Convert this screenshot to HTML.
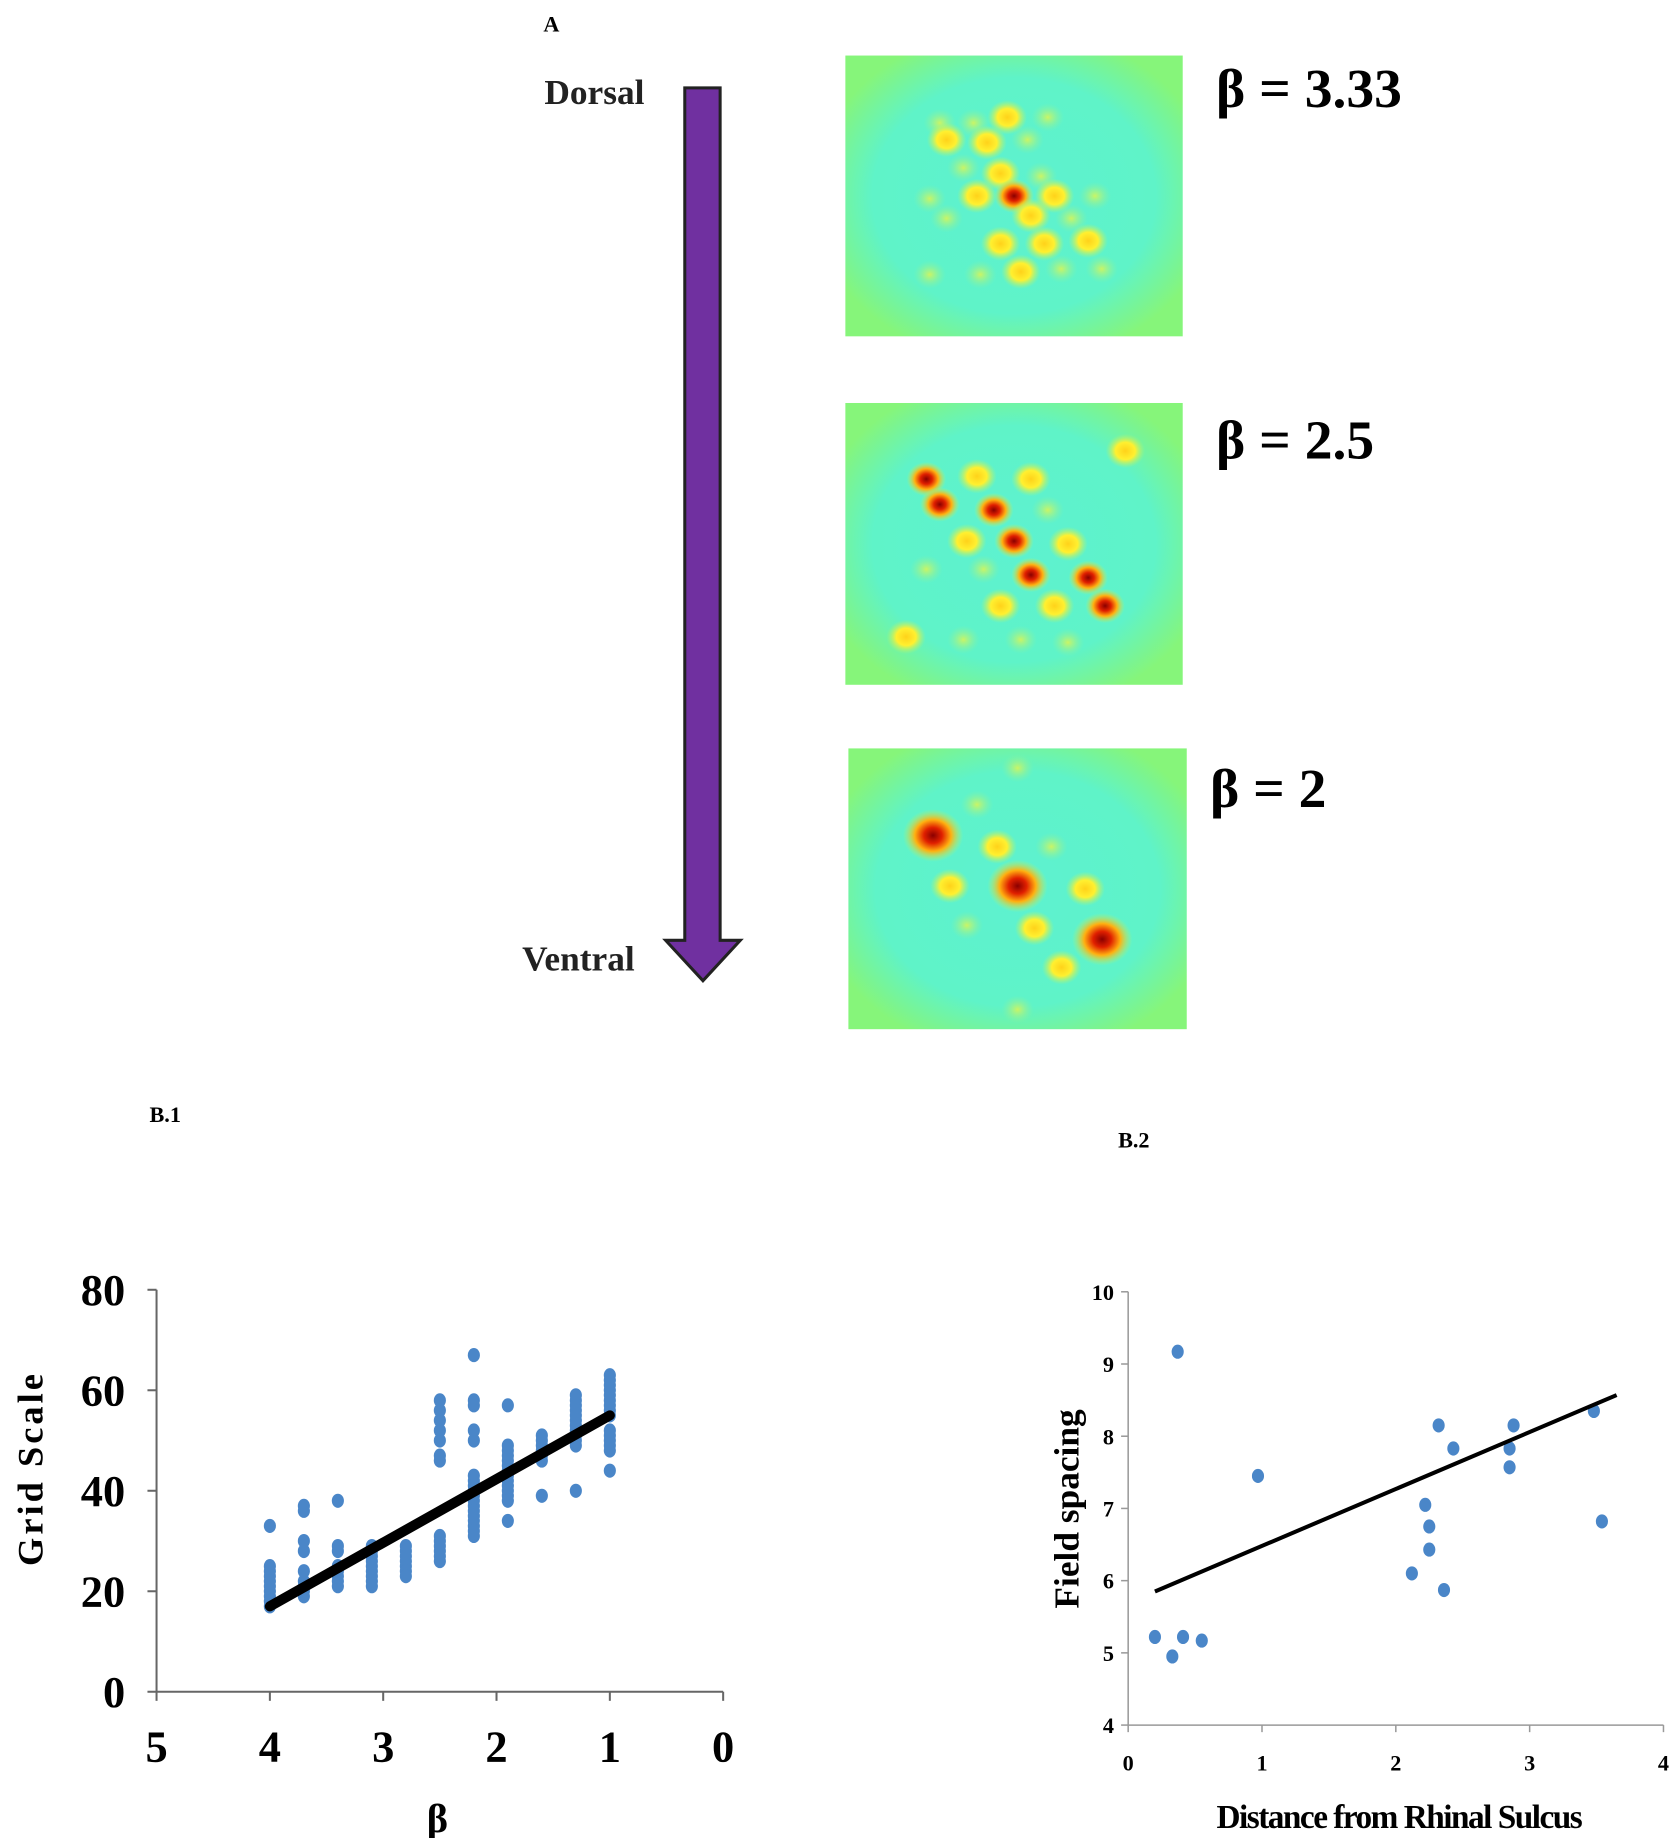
<!DOCTYPE html>
<html><head><meta charset="utf-8"><style>
html,body{margin:0;padding:0;background:#fff;}
svg{display:block;font-family:"Liberation Serif",serif;}
</style></head><body>
<svg id="fig" width="1675" height="1838" viewBox="0 0 1675 1838" xmlns="http://www.w3.org/2000/svg">
<defs>
<radialGradient id="hm-bg" cx="50%" cy="50%" r="60%"><stop offset="0" stop-color="#5df2d0"/><stop offset="0.7" stop-color="#5ff3c8"/><stop offset="1" stop-color="#86f57a"/></radialGradient>
<radialGradient id="blob-w" cx="50%" cy="50%" r="50%"><stop offset="0" stop-color="#d6f55a" stop-opacity="0.9"/><stop offset="1" stop-color="#8ef29a" stop-opacity="0"/></radialGradient>
<radialGradient id="blob-y" cx="50%" cy="50%" r="50%"><stop offset="0" stop-color="#ffd21a"/><stop offset="0.5" stop-color="#fff030"/><stop offset="1" stop-color="#b5f56a" stop-opacity="0"/></radialGradient>
<radialGradient id="blob-r" cx="50%" cy="50%" r="50%"><stop offset="0" stop-color="#8a0000"/><stop offset="0.3" stop-color="#e02000"/><stop offset="0.6" stop-color="#ffb010"/><stop offset="1" stop-color="#c0f560" stop-opacity="0"/></radialGradient>
</defs>
<g transform="scale(1.01)">
<text x="538" y="31" font-size="22" font-weight="bold">A</text>
<text x="539" y="103" font-size="35" font-weight="bold" fill="#222">Dorsal</text>
<text x="517" y="961" font-size="35" font-weight="bold" fill="#222">Ventral</text>
<polygon points="678,87 713,87 713,931 733,931 696,971 659,931 678,931" fill="#7030a0" stroke="#222" stroke-width="3"/>

<g id="heatmaps"></g>

<text x="1204" y="106" font-size="55" font-weight="bold">β = 3.33</text>
<text x="1204" y="454" font-size="55" font-weight="bold">β = 2.5</text>
<text x="1198" y="799" font-size="55" font-weight="bold">β = 2</text>

<text x="148" y="1111" font-size="22" font-weight="bold">B.1</text>
<text x="1107" y="1136" font-size="22" font-weight="bold">B.2</text>

<g id="chart1"></g>
<g id="chart2"></g>
</g>
</svg>
<script>
const NS="http://www.w3.org/2000/svg";
function mk(tag,attrs,parent,txt){const e=document.createElementNS(NS,tag);for(const k in attrs)e.setAttribute(k,attrs[k]);if(txt!==undefined)e.textContent=txt;parent.appendChild(e);return e;}

// ---------- Chart B.1 data ----------
const b1Betas=[4,3.7,3.4,3.1,2.8,2.5,2.2,1.9,1.6,1.3,1.0];
const b1Values=[
 [33,25,24,23,22,21,20,19,18,17],
 [36,37,30,28,24,22,21,20,19],
 [38,29,28,25,24,23,22,21],
 [29,28,27,26,25,24,23,22,21],
 [29,28,27,26,25,24,23],
 [58,56,54,52,50,47,46,31,30,29,28,27,26],
 [67,58,57,52,50,43,42,41,40,39,38,37,36,35,34,33,32,31],
 [57,49,48,47,46,45,44,43,42,41,40,39,38,34],
 [51,50,49,48,47,46,39],
 [59,58,57,56,55,54,53,52,51,50,49,40],
 [63,62,61,60,59,58,57,56,55,52,51,50,49,48,44]
];
const b1Trend=[[4,17],[1,55]];
const b1XTicks=[5,4,3,2,1,0];
const b1YTicks=[0,20,40,60,80];

// ---------- Chart B.2 data ----------
const b2X=[0.2,0.33,0.37,0.41,0.55,0.97,2.12,2.22,2.25,2.25,2.32,2.36,2.43,2.85,2.85,2.88,3.48,3.54];
const b2Y=[5.22,4.95,9.17,5.22,5.17,7.45,6.1,7.05,6.75,6.43,8.15,5.87,7.83,7.83,7.57,8.15,8.35,6.82];
const b2Trend=[[0.2,5.85],[3.65,8.57]];
const b2XTicks=[0,1,2,3,4];
const b2YTicks=[4,5,6,7,8,9,10];

// ---------- draw B.1 ----------
(function(){
 const g=document.getElementById('chart1');
 const X=v=>155+(5-v)/5*(716-155);
 const Y=v=>1675-v/80*(1675-1277);
 let e;
 e=mk('line',{x1:X(5),y1:Y(0),x2:X(0),y2:Y(0),stroke:'#666','stroke-width':2},g);
  
 e=mk('line',{x1:X(5),y1:Y(0),x2:X(5),y2:Y(80),stroke:'#666','stroke-width':2},g);
  
 b1XTicks.forEach(t=>{
  mk('line',{x1:X(t),y1:Y(0),x2:X(t),y2:Y(0)+9,stroke:'#666','stroke-width':2},g);
  e=mk('text',{x:X(t),y:1744,'font-size':44,'font-weight':'bold','text-anchor':'middle'},g,String(t));
   
 });
 b1YTicks.forEach(t=>{
  mk('line',{x1:X(5)-9,y1:Y(t),x2:X(5),y2:Y(t),stroke:'#666','stroke-width':2},g);
  e=mk('text',{x:124,y:Y(t)+15,'font-size':44,'font-weight':'bold','text-anchor':'end'},g,String(t));
   
 });
 e=mk('text',{x:433,y:1814,'font-size':40,'font-weight':'bold','text-anchor':'middle'},g,'β');
  
 e=mk('text',{x:0,y:0,'font-size':36,'font-weight':'bold','text-anchor':'middle',transform:'translate(42,1454) rotate(-90)','letter-spacing':'3'},g,'Grid  Scale');
  
 b1Betas.forEach((b,i)=>{
  b1Values[i].forEach(v=>{
   const p=mk('ellipse',{cx:X(b),cy:Y(v),rx:6,ry:7,fill:'#4a86c8'},g);
   
   
  });
 });
 e=mk('line',{x1:X(b1Trend[0][0]),y1:Y(b1Trend[0][1]),x2:X(b1Trend[1][0]),y2:Y(b1Trend[1][1]),stroke:'#000','stroke-width':10,'stroke-linecap':'round'},g);
  
})();

// ---------- draw B.2 ----------
(function(){
 const g=document.getElementById('chart2');
 const X=v=>1117+v/4*(1647-1117);
 const Y=v=>1708-(v-4)/6*(1708-1279);
 let e;
 e=mk('line',{x1:X(0),y1:Y(4),x2:X(4),y2:Y(4),stroke:'#999','stroke-width':1.5},g);
  
 e=mk('line',{x1:X(0),y1:Y(4),x2:X(0),y2:Y(10),stroke:'#999','stroke-width':1.5},g);
  
 b2XTicks.forEach(t=>{
  mk('line',{x1:X(t),y1:Y(4),x2:X(t),y2:Y(4)+7,stroke:'#999','stroke-width':1.5},g);
  e=mk('text',{x:X(t),y:1753,'font-size':22,'font-weight':'bold','text-anchor':'middle'},g,String(t));
   
 });
 b2YTicks.forEach(t=>{
  mk('line',{x1:X(0)-7,y1:Y(t),x2:X(0),y2:Y(t),stroke:'#999','stroke-width':1.5},g);
  e=mk('text',{x:1103,y:Y(t)+8,'font-size':22,'font-weight':'bold','text-anchor':'end'},g,String(t));
   
 });
 e=mk('text',{x:1385,y:1810,'font-size':33,'font-weight':'bold','text-anchor':'middle','letter-spacing':'-1.5'},g,'Distance from Rhinal Sulcus');
  
 e=mk('text',{x:0,y:0,'font-size':35,'font-weight':'bold','text-anchor':'middle',transform:'translate(1068,1494) rotate(-90)'},g,'Field spacing');
  
 b2X.forEach((x,i)=>{
  const p=mk('ellipse',{cx:X(x),cy:Y(b2Y[i]),rx:6,ry:7,fill:'#4a86c8'},g);
  
  
 });
 e=mk('line',{x1:X(b2Trend[0][0]),y1:Y(b2Trend[0][1]),x2:X(b2Trend[1][0]),y2:Y(b2Trend[1][1]),stroke:'#000','stroke-width':4},g);
  
})();

// ---------- heatmaps (fractional positions of blobs) ----------
const hmBoxes=[[837,55,334,278],[837,399,334,279],[840,741,335,278]];
const hm1Blobs=[[0.28,0.24,'w'],[0.38,0.24,'w'],[0.48,0.22,'y'],[0.6,0.22,'w'],[0.3,0.3,'y'],[0.42,0.31,'y'],[0.54,0.3,'w'],[0.35,0.4,'w'],[0.46,0.42,'y'],[0.58,0.43,'w'],[0.25,0.51,'w'],[0.39,0.5,'y'],[0.5,0.5,'r'],[0.62,0.5,'y'],[0.74,0.5,'w'],[0.55,0.57,'y'],[0.67,0.58,'w'],[0.3,0.58,'w'],[0.46,0.67,'y'],[0.59,0.67,'y'],[0.72,0.66,'y'],[0.52,0.77,'y'],[0.64,0.76,'w'],[0.76,0.76,'w'],[0.25,0.78,'w'],[0.4,0.78,'w']];
const hm2Blobs=[[0.24,0.27,'r'],[0.39,0.26,'y'],[0.55,0.27,'y'],[0.83,0.17,'y'],[0.28,0.36,'r'],[0.44,0.38,'r'],[0.6,0.38,'w'],[0.36,0.49,'y'],[0.5,0.49,'r'],[0.66,0.5,'y'],[0.24,0.59,'w'],[0.41,0.59,'w'],[0.55,0.61,'r'],[0.72,0.62,'r'],[0.46,0.72,'y'],[0.62,0.72,'y'],[0.77,0.72,'r'],[0.18,0.83,'y'],[0.35,0.84,'w'],[0.52,0.84,'w'],[0.66,0.85,'w']];
const hm3Blobs=[[0.25,0.31,'r'],[0.5,0.49,'r'],[0.75,0.68,'r'],[0.44,0.35,'y'],[0.3,0.49,'y'],[0.7,0.5,'y'],[0.55,0.64,'y'],[0.63,0.78,'y'],[0.38,0.2,'w'],[0.5,0.07,'w'],[0.5,0.93,'w'],[0.35,0.63,'w'],[0.6,0.35,'w']];
const hmAll=[hm1Blobs,hm2Blobs,hm3Blobs];
(function(){
 const g=document.getElementById('heatmaps');
 hmBoxes.forEach((b,i)=>{
  const hg=mk('g',{},g);
  
  
  mk('rect',{x:b[0],y:b[1],width:b[2],height:b[3],fill:'url(#hm-bg)'},hg);
  hmAll[i].forEach(d=>{
   const big=i===2&&d[2]==='r';
   const r=d[2]==='w'?14:(big?26:17);
   const c=mk('ellipse',{cx:b[0]+d[0]*b[2],cy:b[1]+d[1]*b[3],rx:r*1.15,ry:r,fill:'url(#blob-'+d[2]+')'},hg);
   
   
  });
 });
})();
</script>
</body></html>
